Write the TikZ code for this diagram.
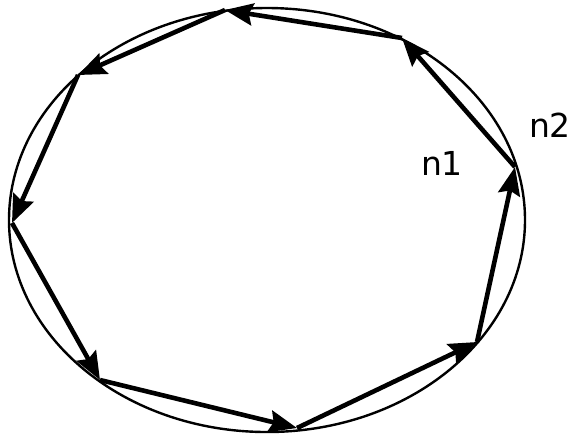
\documentclass[tikz,border=0pt]{standalone}
\usepackage{fontspec}
\setmainfont{DejaVu Sans}
\usetikzlibrary{arrows.meta, positioning}
\tikzstyle{rim} = [line width=1.2pt]
\tikzstyle{arrow} = [line width=2.3pt, -{Stealth[length=14pt, width=11pt, inset=2pt]}]
\tikzstyle{lbl} = [font=\fontsize{16.5}{19}\selectfont]

\begin{document}
\begin{tikzpicture}[x=0.5pt, y=-0.5pt]
    \useasboundingbox (0,0) rectangle (576,436);
    \draw [rim] (267,220) ellipse [x radius=258, y radius=212];

    % vertices on the rim
    \coordinate (v1) at (515,167);
    \coordinate (v2) at (402,38);
    \coordinate (v3) at (225,10);
    \coordinate (v4) at (78,75);
    \coordinate (v5) at (12,223);
    \coordinate (v6) at (100,380);
    \coordinate (v7) at (297,428);
    \coordinate (v8) at (477,342);

    \draw [arrow] (v8) -- (v1);
    \draw [arrow] (v1) -- (v2);
    \draw [arrow] (v2) -- (v3);
    \draw [arrow] (v3) -- (v4);
    \draw [arrow] (v4) -- (v5);
    \draw [arrow] (v5) -- (v6);
    \draw [arrow] (v6) -- (v7);
    \draw [arrow] (v7) -- (v8);

    \node (n1) [lbl] at (442,163) {n1};
    \node (n2) [lbl] at (550,125) {n2};
\end{tikzpicture}
\end{document}
